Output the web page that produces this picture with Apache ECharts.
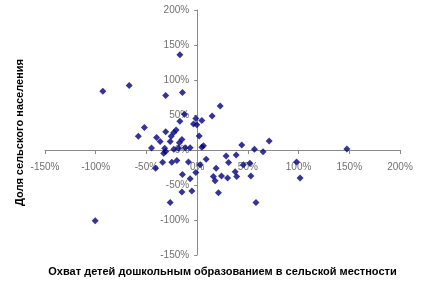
<!DOCTYPE html>
<html>
<head>
<meta charset="utf-8">
<script src="https://cdn.jsdelivr.net/npm/echarts@6/dist/echarts.min.js"></script>
<style>html,body{margin:0;padding:0;background:#fff}#c{width:422px;height:289px}</style>
</head>
<body>
<div id="c"></div>
<script>
const xTitle = 'Охват детей дошкольным образованием в сельской местности';
const yTitle = 'Доля сельского населения';
const xValues = [-93,-67,-17,-31,-14.5,22.7,14.8,-12.5,-17,-1.3,4.6,-3.6,-0.3,-52,-58,-40,-31,-23,-20.7,-25.6,-36.5,-26.6,-17.5,-15,2,-45,-32,-23,-18.4,-11.8,-6.9,6.2,4.6,-33,-31,-34,-25,-20,-8.6,8.9,3,-1.3,-14.5,-6.9,-15,-5.2,-26.6,21,18.7,16,17.7,24,30,28.6,31,38.5,37.5,39,44,45.6,52,53,56.5,65,71,58,98,101.5,147.6,-100.5,-41];
const yValues = [84,92,136,78,82,63,48.6,51,41,45,42,37,36,32,19.5,18,26,25,28.6,19.5,12,12,10.5,15,20,3,2.4,1,2.4,3.3,3.3,6,3.8,-4.7,-2,-17.6,-17.6,-15,-17,-13.3,-21,-32,-35,-41,-60,-58.6,-75,-61,-26,-38,-44,-37,-40,-8.6,-18,-7,-31,-38,7,-21,-19,-37,1,-2.4,13,-75,-17,-40,1.4,-101,-26];
const axisMin = -150, axisMax = 200, axisStep = 50;

const W = 422, H = 289;
const grid = {left: 45, right: 22, top: 10, bottom: 34};
const gw = W - grid.left - grid.right, gh = H - grid.top - grid.bottom;
// place the axes where the other axis is zero (Excel-style crossing axes, labels next to them)
const xAxisOffset = -gh * (0 - axisMin) / (axisMax - axisMin);
const yAxisOffset = -gw * (0 - axisMin) / (axisMax - axisMin);

const points = xValues.map((x, i) => [x, yValues[i]]);
const chart = echarts.init(document.getElementById('c'), null, {renderer: 'canvas'});
const font = 'Liberation Sans, Arial, sans-serif';
const labelStyle = {color: '#707070', fontSize: 10, fontFamily: font, formatter: '{value}%'};
const lineStyle = {color: '#8a8a8a', width: 1};
chart.setOption({
  animation: false,
  backgroundColor: '#fff',
  grid: Object.assign({containLabel: false, outerBoundsMode: 'none'}, grid),
  xAxis: {
    type: 'value', min: axisMin, max: axisMax, interval: axisStep,
    position: 'bottom', offset: xAxisOffset,
    axisLine: {show: true, onZero: false, lineStyle},
    axisTick: {show: true, length: 4, lineStyle},
    axisLabel: Object.assign({margin: 12}, labelStyle),
    splitLine: {show: false},
    name: xTitle, nameLocation: 'middle', nameGap: 116,
    nameTextStyle: {color: '#000', fontWeight: 'bold', fontSize: 11, fontFamily: font}
  },
  yAxis: {
    type: 'value', min: axisMin, max: axisMax, interval: axisStep,
    position: 'left', offset: yAxisOffset,
    axisLine: {show: true, onZero: false, lineStyle},
    axisTick: {show: true, length: 3, lineStyle},
    axisLabel: Object.assign({margin: 8}, labelStyle),
    splitLine: {show: false},
    name: yTitle, nameLocation: 'middle', nameGap: 172, nameRotate: 90,
    nameTextStyle: {color: '#000', fontWeight: 'bold', fontSize: 11, fontFamily: font}
  },
  series: [{
    type: 'scatter',
    data: points,
    symbol: 'diamond',
    symbolSize: 7,
    itemStyle: {color: '#000080'}
  }]
});
</script>
</body>
</html>
